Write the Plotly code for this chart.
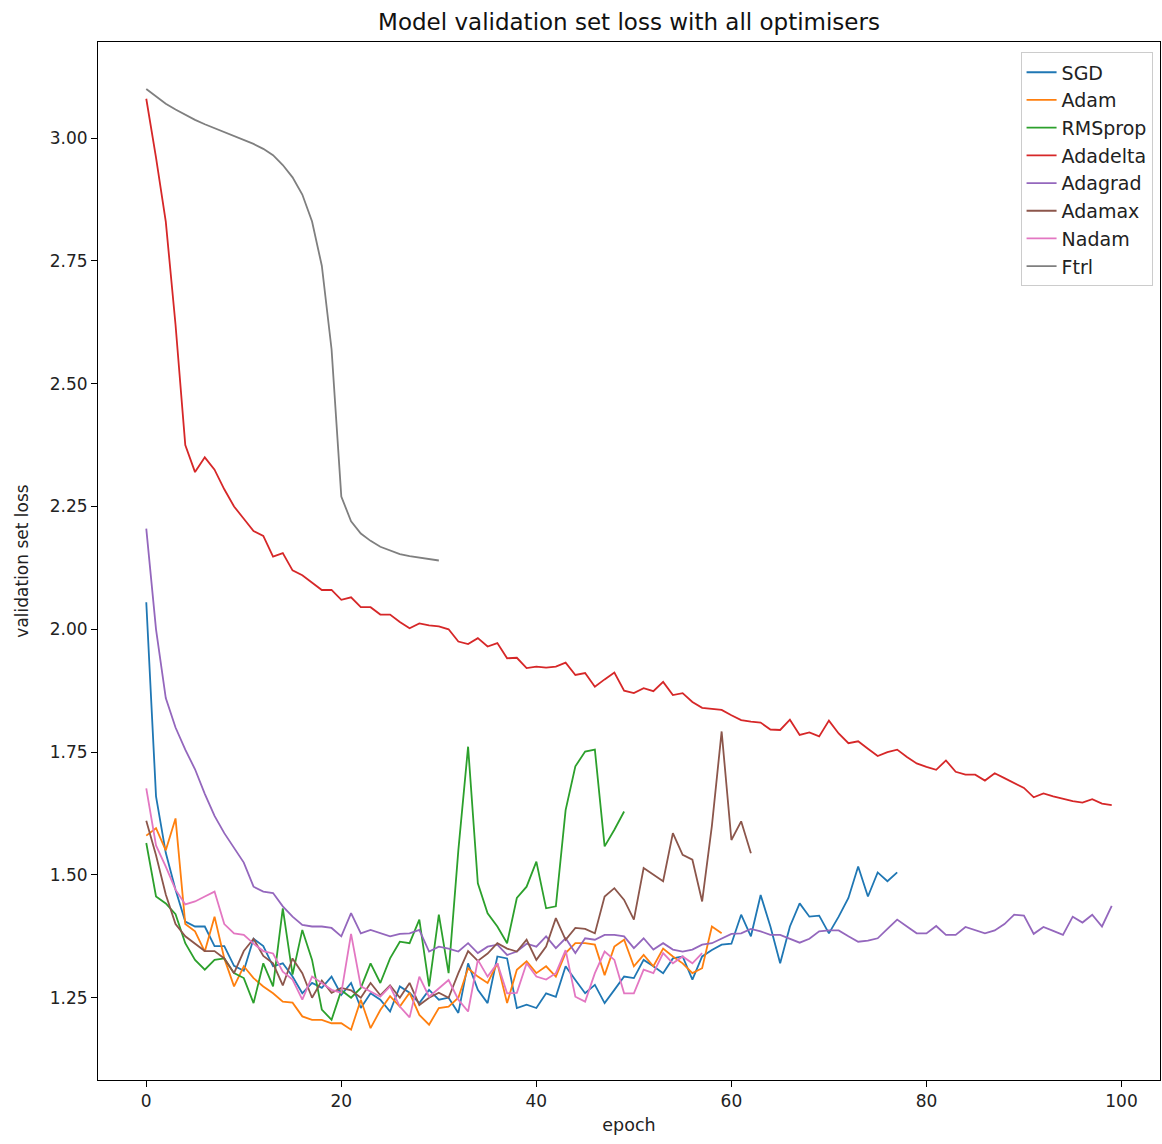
import plotly.graph_objects as go

names = ["SGD", "Adam", "RMSprop", "Adadelta", "Adagrad", "Adamax", "Nadam", "Ftrl"]
colors = ["#1f77b4", "#ff7f0e", "#2ca02c", "#d62728", "#9467bd", "#8c564b", "#e377c2", "#7f7f7f"]

sgd = [2.055, 1.66, 1.545, 1.47, 1.405, 1.395, 1.395, 1.355, 1.355, 1.315,
       1.305, 1.37, 1.355, 1.314, 1.32, 1.293, 1.259, 1.28, 1.27, 1.293,
       1.256, 1.28, 1.229, 1.259, 1.246, 1.222, 1.273, 1.26, 1.239, 1.266,
       1.246, 1.25, 1.219, 1.32, 1.266, 1.239, 1.334, 1.33, 1.229, 1.236,
       1.229, 1.259, 1.252, 1.314, 1.286, 1.259, 1.276, 1.239, 1.266, 1.293,
       1.29, 1.327, 1.314, 1.30, 1.33, 1.334, 1.287, 1.334, 1.347, 1.358,
       1.36, 1.419, 1.375, 1.459, 1.395, 1.32, 1.395, 1.442, 1.415, 1.417,
       1.381, 1.415, 1.453, 1.517, 1.456, 1.505, 1.487, 1.505]

adam = [1.58, 1.595, 1.55, 1.615, 1.40, 1.385, 1.344, 1.415, 1.33, 1.273,
        1.314, 1.29, 1.273, 1.259, 1.242, 1.24, 1.212, 1.205, 1.205, 1.198,
        1.198, 1.185, 1.246, 1.188, 1.225, 1.253, 1.232, 1.26, 1.215, 1.195,
        1.229, 1.232, 1.25, 1.31, 1.293, 1.28, 1.32, 1.239, 1.307, 1.324,
        1.30, 1.314, 1.293, 1.341, 1.361, 1.361, 1.358, 1.296, 1.354, 1.368,
        1.314, 1.337, 1.314, 1.35, 1.334, 1.32, 1.30, 1.31, 1.395, 1.381]

rmsprop = [1.565, 1.456, 1.442, 1.42, 1.361, 1.327, 1.307, 1.327, 1.33, 1.30,
           1.29, 1.239, 1.32, 1.273, 1.432, 1.297, 1.388, 1.327, 1.226, 1.205,
           1.265, 1.25, 1.27, 1.32, 1.28, 1.33, 1.364, 1.361, 1.409, 1.273,
           1.419, 1.30, 1.55, 1.761, 1.483, 1.422, 1.395, 1.361, 1.453, 1.476,
           1.527, 1.432, 1.436, 1.632, 1.721, 1.751, 1.755, 1.558, 1.592, 1.629]

adadelta = [3.08, 2.96, 2.83, 2.62, 2.375, 2.32, 2.35, 2.325, 2.285, 2.25,
            2.225, 2.20, 2.19, 2.148, 2.155, 2.12, 2.11, 2.095, 2.08, 2.08,
            2.06, 2.065, 2.045, 2.045, 2.03, 2.03, 2.015, 2.002, 2.012, 2.008,
            2.006, 2.0, 1.975, 1.97, 1.982, 1.965, 1.972, 1.941, 1.942, 1.921,
            1.924, 1.922, 1.924, 1.932, 1.907, 1.911, 1.883, 1.898, 1.912, 1.875,
            1.87, 1.88, 1.874, 1.893, 1.866, 1.87, 1.852, 1.84, 1.838, 1.836,
            1.825, 1.815, 1.812, 1.81, 1.796, 1.795, 1.816, 1.785, 1.79, 1.782,
            1.814, 1.788, 1.768, 1.772, 1.757, 1.742, 1.75, 1.755, 1.74, 1.727,
            1.72, 1.714, 1.733, 1.71, 1.704, 1.704, 1.692, 1.707, 1.697, 1.687,
            1.677, 1.658, 1.666, 1.66, 1.655, 1.65, 1.647, 1.654, 1.645, 1.642]

adagrad = [2.205, 2.00, 1.86, 1.80, 1.755, 1.715, 1.665, 1.62, 1.585, 1.555,
           1.525, 1.476, 1.466, 1.463, 1.436, 1.415, 1.398, 1.395, 1.395, 1.392,
           1.375, 1.422, 1.381, 1.388, 1.381, 1.375, 1.38, 1.381, 1.388, 1.344,
           1.354, 1.35, 1.344, 1.361, 1.341, 1.354, 1.358, 1.337, 1.344, 1.36,
           1.354, 1.375, 1.351, 1.371, 1.341, 1.371, 1.368, 1.378, 1.378, 1.375,
           1.351, 1.371, 1.348, 1.361, 1.348, 1.344, 1.348, 1.358, 1.361, 1.37,
           1.38, 1.381, 1.39, 1.385, 1.378, 1.378, 1.37, 1.362, 1.37, 1.385,
           1.387, 1.387, 1.375, 1.364, 1.366, 1.371, 1.39, 1.409, 1.395, 1.381,
           1.381, 1.396, 1.378, 1.378, 1.394, 1.387, 1.381, 1.387, 1.40, 1.419,
           1.417, 1.38, 1.394, 1.386, 1.378, 1.415, 1.403, 1.419, 1.395, 1.437]

adamax = [1.61, 1.54, 1.46, 1.40, 1.375, 1.36, 1.345, 1.345, 1.33, 1.30,
          1.345, 1.37, 1.335, 1.32, 1.275, 1.33, 1.30, 1.25, 1.285, 1.26,
          1.27, 1.265, 1.25, 1.28, 1.255, 1.275, 1.25, 1.28, 1.235, 1.25,
          1.26, 1.25, 1.30, 1.345, 1.325, 1.34, 1.361, 1.35, 1.344, 1.368,
          1.327, 1.354, 1.412, 1.368, 1.392, 1.39, 1.381, 1.456, 1.473, 1.449,
          1.409, 1.514, 1.50, 1.487, 1.585, 1.541, 1.531, 1.446, 1.60, 1.792,
          1.571, 1.609, 1.544]

nadam = [1.676, 1.56, 1.517, 1.47, 1.44, 1.446, 1.456, 1.466, 1.40, 1.381,
         1.378, 1.36, 1.345, 1.34, 1.303, 1.287, 1.246, 1.293, 1.28, 1.266,
         1.26, 1.38, 1.273, 1.263, 1.252, 1.273, 1.232, 1.21, 1.293, 1.252,
         1.27, 1.286, 1.246, 1.222, 1.327, 1.293, 1.32, 1.259, 1.26, 1.32,
         1.293, 1.287, 1.30, 1.347, 1.252, 1.242, 1.30, 1.344, 1.327, 1.259,
         1.259, 1.307, 1.30, 1.341, 1.32, 1.334, 1.32, 1.341]

ftrl = [3.10, 3.085, 3.07, 3.058, 3.047, 3.037, 3.028, 3.02, 3.012, 3.004,
        2.996, 2.988, 2.978, 2.965, 2.945, 2.92, 2.885, 2.83, 2.74, 2.57,
        2.27, 2.22, 2.195, 2.18, 2.168, 2.16, 2.153, 2.149, 2.146, 2.143, 2.14]

series = [sgd, adam, rmsprop, adadelta, adagrad, adamax, nadam, ftrl]

x_ticks = [0, 20, 40, 60, 80, 100]
y_ticks = [1.25, 1.50, 1.75, 2.00, 2.25, 2.50, 2.75, 3.00]

fig = go.Figure()
for name, vals, col in zip(names, series, colors):
    fig.add_trace(go.Scatter(x=list(range(len(vals))), y=vals, mode="lines",
                             name=name, line=dict(color=col, width=1.8)))

font = "DejaVu Sans, Arial, sans-serif"
fig.update_layout(
    width=1162, height=1144,
    margin=dict(l=98, r=2, t=42, b=64),
    paper_bgcolor="white", plot_bgcolor="white",
    font=dict(family=font, size=17, color="#222"),
    title=dict(text="Model validation set loss with all optimisers",
               xref="paper", x=0.5, xanchor="center", y=0.9805, yanchor="middle",
               font=dict(size=23, color="#111")),
    legend=dict(x=0.993, y=0.99, xanchor="right", yanchor="top",
                bgcolor="rgba(255,255,255,0.8)", bordercolor="#cccccc", borderwidth=1,
                font=dict(size=19, color="#222"), tracegroupgap=0, entrywidth=120),
    showlegend=True,
)
fig.update_xaxes(range=[-4.95, 103.95], tickvals=x_ticks, ticks="outside", ticklen=6,
                 tickcolor="black", showline=True, linecolor="black", linewidth=1,
                 mirror=True, showgrid=False, zeroline=False,
                 title=dict(text="epoch", standoff=8, font=dict(size=17.5)))
fig.update_yaxes(range=[1.0825, 3.1955], tickvals=y_ticks, tickformat=".2f",
                 ticks="outside", ticklen=6, tickcolor="black", showline=True,
                 linecolor="black", linewidth=1, mirror=True, showgrid=False,
                 zeroline=False, title=dict(text="validation set loss", standoff=16,
                                            font=dict(size=17)))

fig.write_html("out.html")
